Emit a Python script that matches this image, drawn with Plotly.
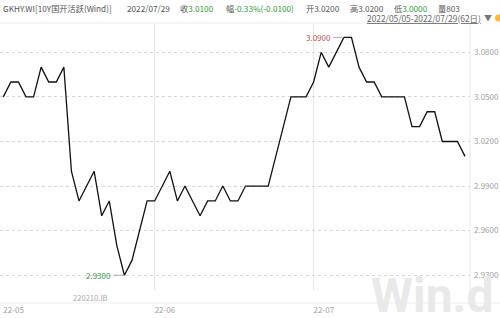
import pandas as pd
import plotly.graph_objects as go

# ---------------- data ----------------
# interbank trading days 2022-05-05 .. 2022-07-29 (May 7 make-up day open, Jun 3 holiday)
_days = pd.bdate_range("2022-05-05", "2022-07-29")
_days = _days.union(pd.DatetimeIndex(["2022-05-07"])).drop(pd.Timestamp("2022-06-03"))
dates = [d.strftime("%Y-%m-%d") for d in _days]

yields = [
    3.05, 3.06, 3.06, 3.05, 3.05, 3.07, 3.06, 3.06, 3.07, 3.00,
    2.98, 2.99, 3.00, 2.97, 2.98, 2.95, 2.93, 2.94, 2.96, 2.98,
    2.98, 2.99, 3.00, 2.98, 2.99, 2.98, 2.97, 2.98, 2.98, 2.99,
    2.98, 2.98, 2.99, 2.99, 2.99, 2.99, 3.01, 3.03, 3.05, 3.05,
    3.05, 3.06, 3.08, 3.07, 3.08, 3.09, 3.09, 3.07, 3.06, 3.06,
    3.05, 3.05, 3.05, 3.05, 3.03, 3.03, 3.04, 3.04, 3.02, 3.02,
    3.02, 3.01,
]

month_starts = ["2022-05-05", "2022-06-01", "2022-07-01"]
month_labels = ["22-05", "22-06", "22-07"]
y_ticks = [2.93, 2.96, 2.99, 3.02, 3.05, 3.08]

header_items = [
    ("GKHY.WI[10Y国开活跃(Wind)]", None),
    ("2022/07/29", None),
    ("收", "3.0100"),
    ("幅", "-0.33%(-0.0100)"),
    ("开", "3.0200"),
    ("高", "3.0200"),
    ("低", "3.0000"),
    ("量", "803"),
]
header_value_green = [False, False, True, True, False, False, True, False]
date_range_text = "2022/05/05-2022/07/29(62日)"
bond_code = "220210.IB"

# ---------------- geometry helpers ----------------
W, H = 500, 318
PL, PR, PT, PB = 0, 470, 23, 290  # plot area in pixels


def px(x):
    return (x - PL) / (PR - PL)


def py(y):
    return (PB - y) / (PB - PT)


xs = list(range(len(dates)))
tick_idx = [dates.index(d) for d in month_starts]
spacing = (465.0 - 3.3) / (len(dates) - 1)
x0 = -3.3 / spacing
x1 = x0 + (PR - PL) / spacing

GRAY = "#555555"
GREEN = "#2e9a3a"
RED = "#b0524f"
FONT = "Noto Sans CJK SC"

fig = go.Figure()
fig.add_trace(go.Scatter(
    x=xs, y=yields, mode="lines",
    line=dict(color="#111111", width=1.3),
    hoverinfo="skip", showlegend=False,
))

ann = []
# header pieces
header_x = [2, 126, 179, 225, 305, 349, 393, 437]
for (lab, val), hx, g in zip(header_items, header_x, header_value_green):
    if val is None:
        txt = lab
    else:
        col = GREEN if g else GRAY
        txt = f"{lab}<span style='color:{col}'>{val}</span>"
    ann.append(dict(text=txt, xref="paper", yref="paper", x=px(hx), y=py(8),
                    xanchor="left", yanchor="middle", showarrow=False, borderpad=0,
                    font=dict(family=FONT, size=8.2, color=GRAY)))
# date range (underlined) and triangle
ann.append(dict(text=f"<span style='text-decoration:underline'>{date_range_text}</span>",
                xref="paper", yref="paper", x=px(482), y=py(18), borderpad=0,
                xanchor="right", yanchor="middle", showarrow=False,
                font=dict(family=FONT, size=8.4, color="#666666")))
ann.append(dict(text="▼", xref="paper", yref="paper", x=px(483), y=py(18), borderpad=0,
                xanchor="left", yanchor="middle", showarrow=False,
                font=dict(family=FONT, size=8, color="#777777")))
# bond code
ann.append(dict(text=bond_code, xref="paper", yref="paper", x=px(90), y=py(297),
                xanchor="center", yanchor="middle", showarrow=False,
                font=dict(family=FONT, size=7.6, color="#a8a8a8")))
# watermark
ann.append(dict(text="Win.d", xref="paper", yref="paper", x=px(369), y=py(295),
                xanchor="left", yanchor="middle", showarrow=False,
                font=dict(family="Roboto", size=48, color="#e9e9e9", weight="bold")))
# max / min labels
imax = yields.index(max(yields))
imin = yields.index(min(yields))
ann.append(dict(text=f"{yields[imax]:.4f}", x=xs[imax], y=yields[imax], xref="x", yref="y",
                showarrow=True, ax=-11, ay=0, arrowhead=0, arrowwidth=0.8,
                arrowcolor="#999999", xanchor="right", yanchor="middle",
                font=dict(family=FONT, size=8, color=RED)))
ann.append(dict(text=f"{yields[imin]:.4f}", x=xs[imin], y=yields[imin], xref="x", yref="y",
                showarrow=True, ax=-11, ay=0, arrowhead=0, arrowwidth=0.8,
                arrowcolor="#999999", xanchor="right", yanchor="middle",
                font=dict(family=FONT, size=8, color=GREEN)))

shapes = []
# vertical month grid lines (not at first label)
for i in tick_idx[1:]:
    shapes.append(dict(type="line", xref="x", yref="paper", x0=i, x1=i, y0=0, y1=1,
                       line=dict(color="#e4e4e4", width=1), layer="below"))
# top border
shapes.append(dict(type="line", xref="paper", yref="paper", x0=0, x1=1, y0=1, y1=1,
                   line=dict(color="#f0f0f0", width=1), layer="below"))
# right border down to the footer line
shapes.append(dict(type="line", xref="paper", yref="paper", x0=1, x1=1, y0=py(303), y1=1,
                   line=dict(color="#e8e8e8", width=1), layer="below"))
# footer separator
shapes.append(dict(type="line", xref="paper", yref="paper", x0=0, x1=px(W), y0=py(303), y1=py(303),
                   line=dict(color="#ececec", width=1), layer="below"))
# orange dot at top right
shapes.append(dict(type="circle", xref="paper", yref="paper",
                   x0=px(495), x1=px(502), y0=py(21.5), y1=py(14.5),
                   fillcolor="#f5b942", line=dict(width=0)))

fig.update_layout(
    width=W, height=H,
    margin=dict(l=PL, r=W - PR, t=PT, b=H - PB, pad=0),
    paper_bgcolor="white", plot_bgcolor="white",
    font=dict(family=FONT),
    annotations=ann, shapes=shapes,
    xaxis=dict(
        range=[x0, x1], tickvals=tick_idx, ticktext=month_labels,
        showgrid=False, zeroline=False, showline=False, ticks="",
        ticklabelposition="outside right", ticklabelstandoff=14,
        tickfont=dict(family=FONT, size=8, color="#a0a0a0"),
    ),
    yaxis=dict(
        side="right", range=[2.9201, 3.0997], tickvals=y_ticks, tickformat=".4f",
        showgrid=True, gridcolor="#d6d6d6", griddash="dot", gridwidth=1,
        zeroline=False, showline=False, ticks="",
        tickfont=dict(family=FONT, size=8, color="#a0a0a0"),
        ticklabelstandoff=3,
    ),
    showlegend=False,
)

fig.write_html("out.html")
